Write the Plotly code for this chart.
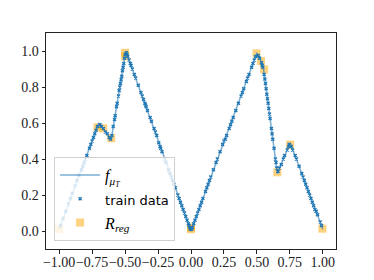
import plotly.graph_objects as go

# piecewise-linear learned function f_{mu_T} (knot positions)
f_x = [-1.0, -0.70, -0.605, -0.495, 0.0, 0.50, 0.53, 0.55, 0.655, 0.752, 1.0]
f_y = [0.01, 0.60, 0.51, 1.00, 0.00, 0.99, 0.945, 0.90, 0.32, 0.49, 0.01]

# training data
train_x = [-0.99, -0.97, -0.95, -0.93, -0.915, -0.90, -0.88, -0.865, -0.85, -0.83, -0.82, -0.81, -0.80, -0.79,
           -0.77, -0.76, -0.75, -0.74, -0.73, -0.72, -0.71,
           -0.69, -0.68, -0.665, -0.65, -0.635, -0.62, -0.61,
           -0.60, -0.59, -0.58, -0.575, -0.565, -0.56, -0.55, -0.545, -0.54, -0.535, -0.53, -0.525, -0.52,
           -0.515, -0.51, -0.505, -0.50,
           -0.49, -0.485, -0.48, -0.47, -0.46, -0.455, -0.445, -0.43, -0.42, -0.40, -0.38, -0.37, -0.36, -0.35,
           -0.345, -0.34, -0.33, -0.31, -0.30, -0.28, -0.27, -0.26, -0.245, -0.235, -0.23, -0.22, -0.20, -0.19,
           -0.17, -0.16, -0.15, -0.14, -0.13, -0.12, -0.10, -0.09, -0.08, -0.07, -0.06, -0.05, -0.04, -0.03,
           -0.02, -0.015, -0.01, -0.005,
           0.005, 0.01, 0.02, 0.03, 0.04, 0.05, 0.06, 0.07, 0.08, 0.09, 0.11, 0.12, 0.13, 0.14, 0.15, 0.17,
           0.19, 0.20, 0.22, 0.24, 0.25, 0.26, 0.27, 0.29, 0.30, 0.31, 0.32, 0.34, 0.36, 0.38, 0.39, 0.40,
           0.42, 0.43, 0.44, 0.46, 0.47, 0.48, 0.49,
           0.51, 0.52, 0.535, 0.54, 0.545, 0.555, 0.56, 0.565, 0.57, 0.575, 0.58, 0.585, 0.59, 0.595, 0.60,
           0.61, 0.615, 0.62, 0.63, 0.64, 0.645, 0.65,
           0.66, 0.67, 0.685, 0.70, 0.71, 0.73, 0.74, 0.745,
           0.76, 0.77, 0.79, 0.80, 0.82, 0.84, 0.85, 0.86, 0.87, 0.88, 0.89, 0.90, 0.91, 0.92, 0.93, 0.94,
           0.95, 0.96, 0.98, 0.99]
train_y = [0.03, 0.07, 0.11, 0.15, 0.18, 0.21, 0.25, 0.28, 0.31, 0.34, 0.36, 0.38, 0.40, 0.42,
           0.46, 0.48, 0.50, 0.52, 0.54, 0.56, 0.58,
           0.59, 0.58, 0.57, 0.55, 0.54, 0.52, 0.51,
           0.53, 0.58, 0.62, 0.64, 0.69, 0.71, 0.75, 0.78, 0.80, 0.82, 0.84, 0.86, 0.89,
           0.91, 0.93, 0.96, 0.98,
           0.99, 0.98, 0.97, 0.95, 0.93, 0.92, 0.90, 0.87, 0.85, 0.81, 0.77, 0.75, 0.73, 0.71,
           0.70, 0.69, 0.67, 0.63, 0.61, 0.57, 0.55, 0.53, 0.49, 0.47, 0.46, 0.44, 0.40, 0.38,
           0.34, 0.32, 0.30, 0.28, 0.26, 0.24, 0.20, 0.18, 0.16, 0.14, 0.12, 0.10, 0.08, 0.06,
           0.04, 0.03, 0.02, 0.01,
           0.01, 0.02, 0.04, 0.06, 0.08, 0.10, 0.12, 0.14, 0.16, 0.18, 0.22, 0.24, 0.26, 0.28, 0.30, 0.34,
           0.38, 0.40, 0.44, 0.48, 0.50, 0.51, 0.53, 0.57, 0.59, 0.61, 0.63, 0.67, 0.71, 0.75, 0.77, 0.79,
           0.83, 0.85, 0.87, 0.91, 0.93, 0.95, 0.97,
           0.975, 0.96, 0.935, 0.92, 0.91, 0.87, 0.845, 0.82, 0.79, 0.76, 0.735, 0.71, 0.68, 0.65, 0.625,
           0.57, 0.54, 0.51, 0.46, 0.40, 0.38, 0.35,
           0.33, 0.35, 0.37, 0.40, 0.42, 0.45, 0.47, 0.48,
           0.47, 0.45, 0.42, 0.40, 0.36, 0.32, 0.30, 0.28, 0.26, 0.24, 0.22, 0.20, 0.18, 0.16, 0.14, 0.12,
           0.11, 0.09, 0.05, 0.03]

# regularisation set R_reg
reg_x = [-1.0, -0.71, -0.666, -0.605, -0.50, -0.50, 0.0, 0.0, 0.497, 0.531, 0.555, 0.655, 0.752, 0.997]
reg_y = [0.01, 0.576, 0.57, 0.515, 0.99, 0.97, 0.01, 0.02, 0.987, 0.944, 0.898, 0.326, 0.48, 0.013]

xtick_vals = [-1.0, -0.75, -0.5, -0.25, 0.0, 0.25, 0.5, 0.75, 1.0]
xtick_text = ["−1.00", "−0.75", "−0.50", "−0.25", "0.00", "0.25", "0.50", "0.75", "1.00"]
ytick_vals = [0.0, 0.2, 0.4, 0.6, 0.8, 1.0]
ytick_text = ["0.0", "0.2", "0.4", "0.6", "0.8", "1.0"]

SERIF = "Liberation Serif"

fig = go.Figure()
fig.add_trace(go.Scatter(
    x=reg_x, y=reg_y, mode="markers", name="<i>R</i><sub><i>reg</i></sub>",
    marker=dict(symbol="square", size=8, color="rgba(255,165,0,0.5)", line=dict(width=0)),
    legendrank=3))
fig.add_trace(go.Scatter(
    x=f_x, y=f_y, mode="lines", name="<i>f</i><sub><i>μ</i><sub><i>T</i></sub></sub>",
    line=dict(color="rgba(31,119,180,0.6)", width=1.5), legendrank=1))
fig.add_trace(go.Scatter(
    x=train_x, y=train_y, mode="markers",
    name="<span style='font-family:DejaVu Sans;font-size:13px'>train data</span>",
    marker=dict(symbol="x-thin", size=3, color="#1f77b4", line=dict(width=1.4, color="#1f77b4")),
    legendrank=2))

axis_common = dict(showgrid=False, zeroline=False, showline=True, mirror=True,
                   linecolor="#222", linewidth=1, ticks="outside", ticklen=3.5,
                   tickwidth=0.8, tickcolor="#222", tickangle=0, automargin=False,
                   tickfont=dict(family=SERIF, size=14, color="#222"))

# page body has an 8px margin, so the figure is 8px smaller than the window
fig.update_layout(
    width=366, height=272,
    margin=dict(l=38, r=38, t=25, b=31),
    paper_bgcolor="white", plot_bgcolor="white",
    xaxis=dict(range=[-1.1, 1.1], tickvals=xtick_vals, ticktext=xtick_text,
               ticklabelstandoff=-3, **axis_common),
    yaxis=dict(range=[-0.1, 1.1], tickvals=ytick_vals, ticktext=ytick_text, **axis_common),
    legend=dict(x=0.028, y=0.037, xanchor="left", yanchor="bottom",
                bgcolor="rgba(255,255,255,0.8)", bordercolor="#d0d0d0", borderwidth=1,
                font=dict(family=SERIF, size=16, color="black"), itemwidth=40,
                tracegroupgap=0),
    showlegend=True,
)

fig.write_html("out.html")
